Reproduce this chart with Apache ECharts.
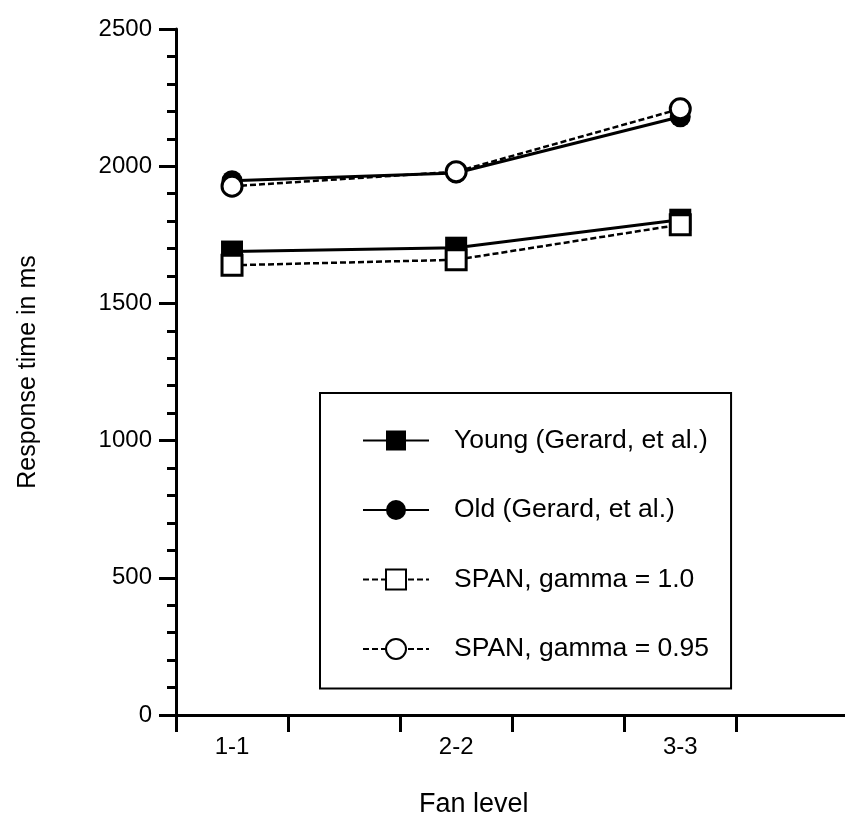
<!DOCTYPE html>
<html>
<head>
<meta charset="utf-8">
<script src="https://cdn.jsdelivr.net/npm/echarts@6/dist/echarts.min.js"></script>
<style>
  html, body { margin: 0; padding: 0; background: #fff; }
  #main { width: 845px; height: 824px; }
</style>
</head>
<body>
<div id="main"></div>
<script>
// fan levels and where they sit on the x scale (centre of each pair of ticks)
var fanLevels = ['1-1', '2-2', '3-3'];
var fanX = [0.5, 2.5, 4.5];
var xTicks = [0, 1, 2, 3, 4, 5];

// response times in ms
var youngGerard = [1689, 1703, 1805];
var oldGerard = [1947, 1975, 2180];
var spanGamma10 = [1639, 1659, 1787];
var spanGamma095 = [1927, 1980, 2209];

var yTicks = [0, 500, 1000, 1500, 2000, 2500];

var FONT = '"Liberation Sans", Arial, sans-serif';

function pairs(vals) {
    return vals.map(function (v, i) { return [fanX[i], v]; });
}

var chart = echarts.init(document.getElementById('main'));

var option = {
    backgroundColor: '#fff',
    animation: false,
    textStyle: { fontFamily: FONT, color: '#000' },
    grid: { left: 176, right: 0, top: 29, bottom: 109, containLabel: false },
    legend: {
        orient: 'vertical',
        left: 320,
        top: 393,
        itemWidth: 66,
        itemHeight: 25,
        itemGap: 42.5,
        padding: [34, 22, 26, 42],
        borderColor: '#000',
        borderWidth: 2,
        textStyle: { fontSize: 26.5, color: '#000', fontFamily: FONT, padding: [0, 0, 0, 20] },
        data: ['Young (Gerard, et al.)', 'Old (Gerard, et al.)', 'SPAN, gamma = 1.0', 'SPAN, gamma = 0.95']
    },
    xAxis: {
        type: 'value',
        min: 0, max: 5.97,
        axisLine: { lineStyle: { color: '#000', width: 3 } },
        axisTick: { show: true, inside: false, length: 17, customValues: xTicks, lineStyle: { color: '#000', width: 3 } },
        axisLabel: {
            margin: 20,
            fontSize: 24,
            color: '#000',
            fontFamily: FONT,
            customValues: fanX,
            formatter: function (v) {
                var i = fanX.indexOf(v);
                return i >= 0 ? fanLevels[i] : '';
            }
        },
        splitLine: { show: false }
    },
    yAxis: {
        type: 'value',
        min: yTicks[0], max: yTicks[yTicks.length - 1], interval: 500,
        name: 'Response time in ms',
        nameLocation: 'middle',
        nameGap: 135,
        nameTextStyle: { fontSize: 25, color: '#000', fontFamily: FONT },
        axisLine: { show: true, lineStyle: { color: '#000', width: 3 } },
        axisTick: { show: true, inside: false, length: 17, lineStyle: { color: '#000', width: 3 } },
        minorTick: { show: true, splitNumber: 5, length: 9, lineStyle: { color: '#000', width: 3 } },
        axisLabel: {
            fontSize: 24, color: '#000', margin: 24, fontFamily: FONT,
            formatter: function (v) { return String(v); }
        },
        splitLine: { show: false }
    },
    graphic: [{
        type: 'text',
        left: 419,
        top: 791,
        style: { text: 'Fan level', fontSize: 27, fill: '#000', fontFamily: FONT }
    }],
    series: [{
        name: 'Young (Gerard, et al.)',
        type: 'line',
        data: pairs(youngGerard),
        symbol: 'rect',
        symbolSize: 22,
        z: 2,
        lineStyle: { color: '#000', width: 3 },
        itemStyle: { color: '#000', borderColor: '#000', borderWidth: 0 }
    }, {
        name: 'Old (Gerard, et al.)',
        type: 'line',
        data: pairs(oldGerard),
        symbol: 'circle',
        symbolSize: 21,
        z: 2,
        lineStyle: { color: '#000', width: 3 },
        itemStyle: { color: '#000', borderColor: '#000', borderWidth: 0 }
    }, {
        name: 'SPAN, gamma = 1.0',
        type: 'line',
        data: pairs(spanGamma10),
        symbol: 'rect',
        symbolSize: 20,
        z: 3,
        lineStyle: { color: '#000', width: 2.5, type: [6, 3] },
        itemStyle: { color: '#fff', borderColor: '#000', borderWidth: 3 }
    }, {
        name: 'SPAN, gamma = 0.95',
        type: 'line',
        data: pairs(spanGamma095),
        symbol: 'circle',
        symbolSize: 20,
        z: 3,
        lineStyle: { color: '#000', width: 2.5, type: [6, 3] },
        itemStyle: { color: '#fff', borderColor: '#000', borderWidth: 3 }
    }]
};

chart.setOption(option);
</script>
</body>
</html>
